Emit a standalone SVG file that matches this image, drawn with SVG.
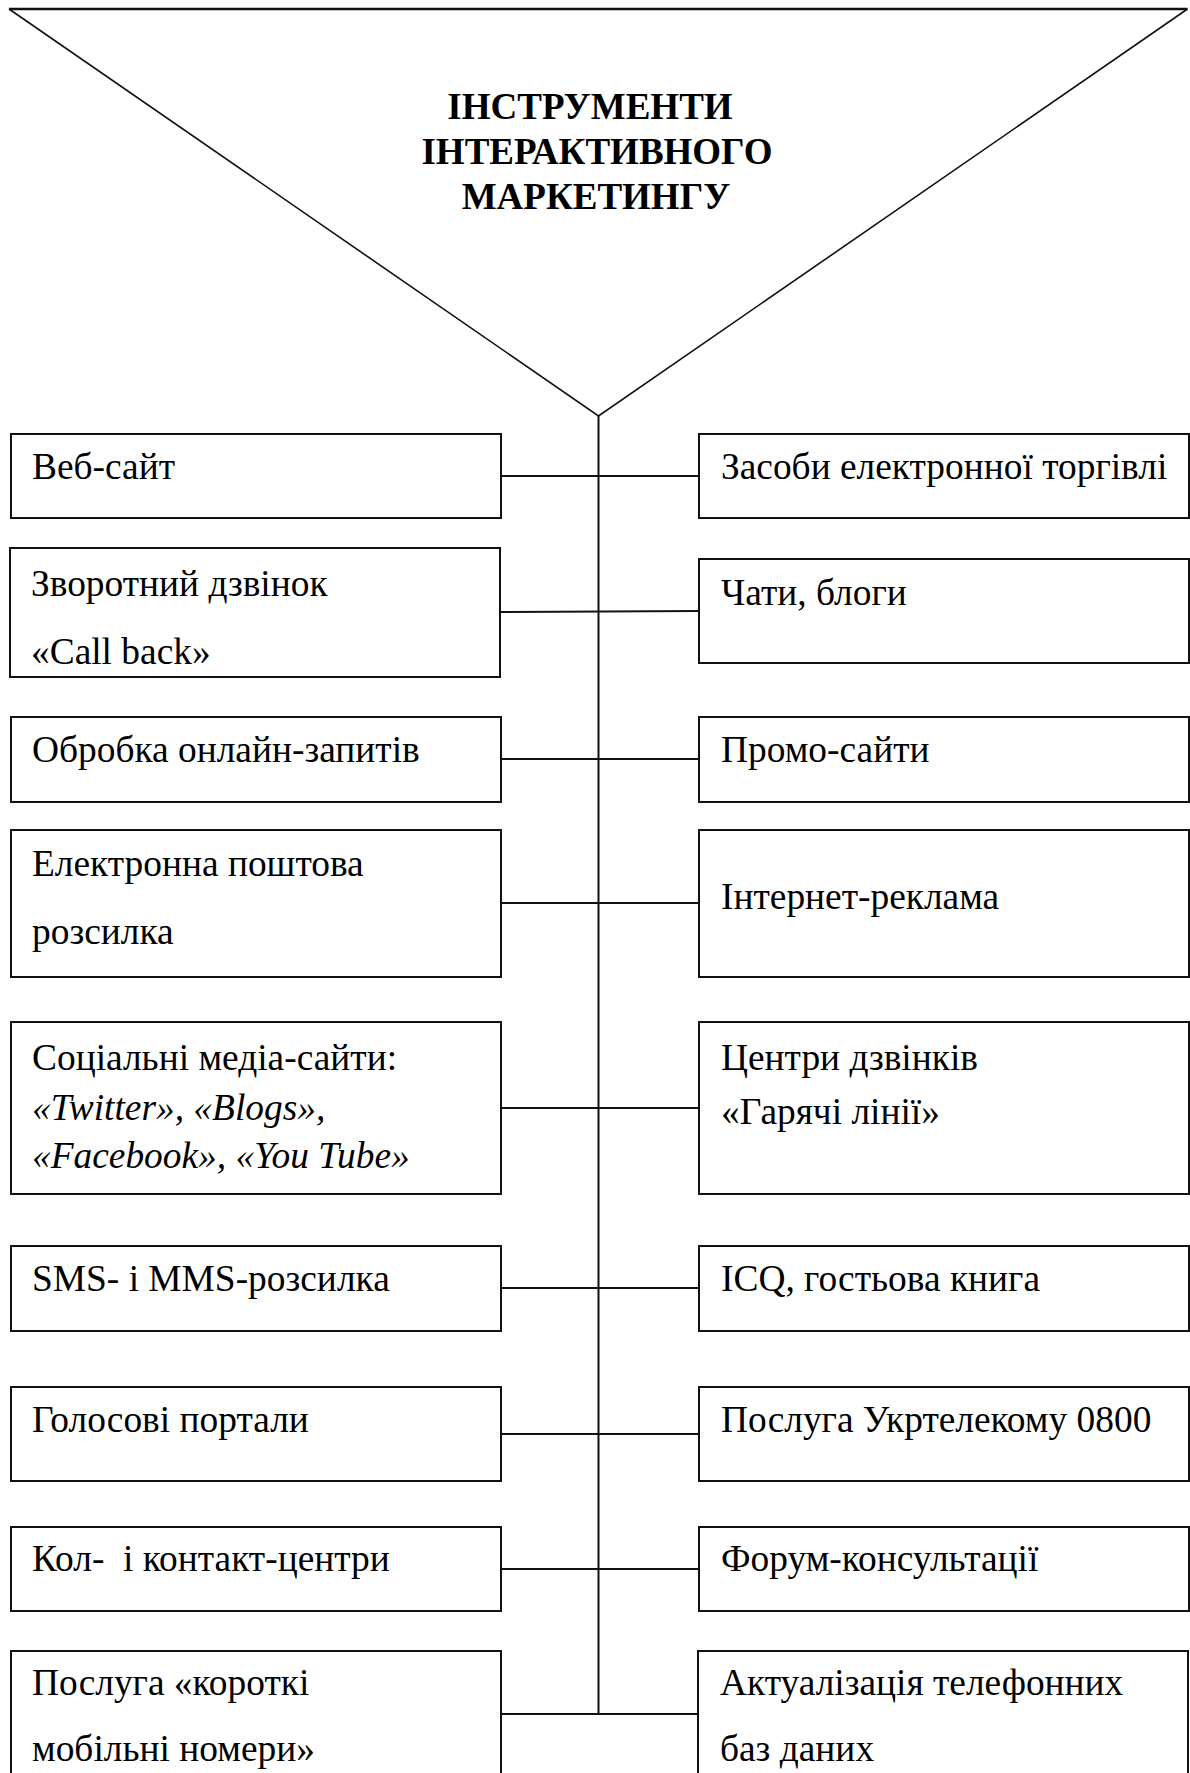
<svg xmlns="http://www.w3.org/2000/svg" width="1190" height="1773" viewBox="0 0 1190 1773">
<style>
.box{fill:#fff;stroke:#111;stroke-width:2}
.t{font-family:"Liberation Serif","Times New Roman",serif;font-size:37.4px;fill:#000;white-space:pre}
.i{font-style:italic}
.title{font-family:"Liberation Serif","Times New Roman",serif;font-size:37px;font-weight:bold;fill:#000;text-anchor:middle}
.c{stroke:#111;stroke-width:2;fill:none}
</style>
<rect width="1190" height="1773" fill="#fff"/>
<g id="funnel">
<path d="M9,9 L598.5,416 L1187.5,9" fill="none" stroke="#111" stroke-width="1.6"/>
<line x1="9" y1="9" x2="1187.5" y2="9" stroke="#111" stroke-width="2.5"/>
<text class="title" x="590" y="119">ІНСТРУМЕНТИ</text>
<text class="title" x="597" y="164">ІНТЕРАКТИВНОГО</text>
<text class="title" x="596" y="209">МАРКЕТИНГУ</text>
</g>
<g id="connectors">
<line class="c" x1="598.5" y1="416" x2="598.5" y2="1714"/>
<line class="c" x1="501" y1="476" x2="699" y2="476"/>
<line class="c" x1="501" y1="612" x2="699" y2="611"/>
<line class="c" x1="501" y1="759" x2="699" y2="759"/>
<line class="c" x1="501" y1="903" x2="699" y2="903"/>
<line class="c" x1="501" y1="1108" x2="699" y2="1108"/>
<line class="c" x1="501" y1="1288" x2="699" y2="1288"/>
<line class="c" x1="501" y1="1434" x2="699" y2="1434"/>
<line class="c" x1="501" y1="1569" x2="699" y2="1569"/>
<line class="c" x1="501" y1="1714" x2="699" y2="1714"/>
</g>
<g id="n-web"><rect class="box" x="11" y="434" width="490" height="84"/><text class="t" x="32" y="479">Веб-сайт</text></g>
<g id="n-ecommerce"><rect class="box" x="699" y="434" width="490" height="84"/><text class="t" x="721" y="479">Засоби електронної торгівлі</text></g>
<g id="n-callback"><rect class="box" x="10" y="548" width="490" height="129"/><text class="t" x="31" y="596">Зворотний дзвінок</text><text class="t" x="31" y="664">«Call back»</text></g>
<g id="n-chats"><rect class="box" x="699" y="559" width="490" height="104"/><text class="t" x="721" y="605">Чати, блоги</text></g>
<g id="n-requests"><rect class="box" x="11" y="717" width="490" height="85"/><text class="t" x="32" y="762">Обробка онлайн-запитів</text></g>
<g id="n-promo"><rect class="box" x="699" y="717" width="490" height="85"/><text class="t" x="721" y="762">Промо-сайти</text></g>
<g id="n-email"><rect class="box" x="11" y="830" width="490" height="147"/><text class="t" x="32" y="876">Електронна поштова</text><text class="t" x="32" y="944">розсилка</text></g>
<g id="n-ads"><rect class="box" x="699" y="830" width="490" height="147"/><text class="t" x="721" y="909">Інтернет-реклама</text></g>
<g id="n-social"><rect class="box" x="11" y="1022" width="490" height="172"/><text class="t" x="32" y="1070">Соціальні медіа-сайти:</text><text class="t i" x="32" y="1120">«Twitter», «Blogs»,</text><text class="t i" x="32" y="1168">«Facebook», «You Tube»</text></g>
<g id="n-callcenters"><rect class="box" x="699" y="1022" width="490" height="172"/><text class="t" x="721" y="1070">Центри дзвінків</text><text class="t" x="721" y="1124">«Гарячі лінії»</text></g>
<g id="n-sms"><rect class="box" x="11" y="1246" width="490" height="85"/><text class="t" x="32" y="1291">SMS- і MMS-розсилка</text></g>
<g id="n-icq"><rect class="box" x="699" y="1246" width="490" height="85"/><text class="t" x="721" y="1291">ICQ, гостьова книга</text></g>
<g id="n-voice"><rect class="box" x="11" y="1387" width="490" height="94"/><text class="t" x="32" y="1432">Голосові портали</text></g>
<g id="n-ukrtelecom"><rect class="box" x="699" y="1387" width="490" height="94"/><text class="t" x="721" y="1432">Послуга Укртелекому 0800</text></g>
<g id="n-contact"><rect class="box" x="11" y="1527" width="490" height="84"/><text class="t" x="32" y="1571" xml:space="preserve">Кол-  і контакт-центри</text></g>
<g id="n-forum"><rect class="box" x="699" y="1527" width="490" height="84"/><text class="t" x="721" y="1571">Форум-консультації</text></g>
<g id="n-shortnum"><rect class="box" x="11" y="1651" width="490" height="160"/><text class="t" x="32" y="1695">Послуга «короткі</text><text class="t" x="32" y="1761">мобільні номери»</text></g>
<g id="n-phonedb"><rect class="box" x="698" y="1651" width="490" height="160"/><text class="t" x="720" y="1695">Актуалізація телефонних</text><text class="t" x="720" y="1761">баз даних</text></g>
</svg>
